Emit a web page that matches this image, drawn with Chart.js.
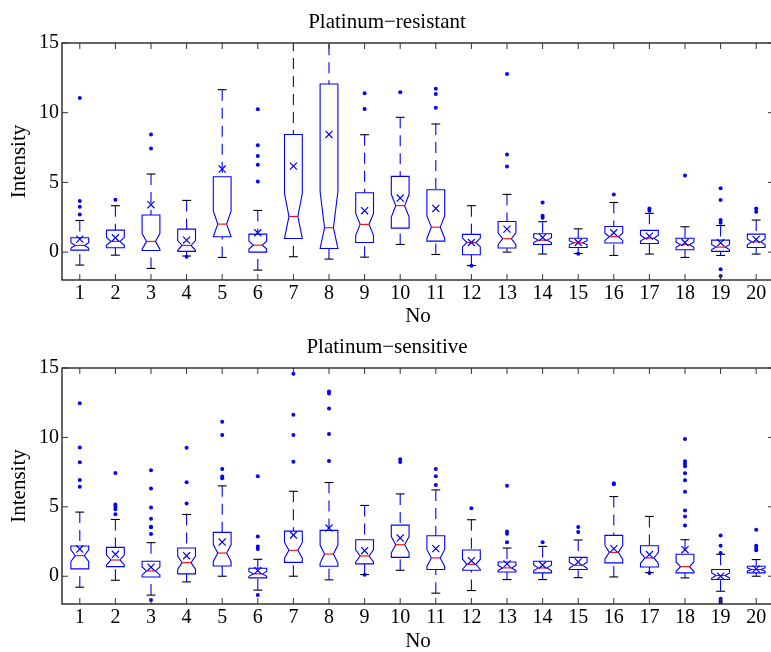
<!DOCTYPE html>
<html>
<head>
<meta charset="utf-8">
<script src="https://cdn.jsdelivr.net/npm/chart.js@4"></script>
<style>
html, body { margin: 0; padding: 0; background: #fff; overflow: hidden; }
.panel { position: absolute; left: 0; width: 775px; height: 330px; }
#p1 { top: 0; }
#p2 { top: 325px; }
</style>
</head>
<body>
<div class="panel" id="p1"><canvas id="chartRes" width="775" height="330"></canvas></div>
<div class="panel" id="p2"><canvas id="chartSens" width="775" height="330"></canvas></div>
<script>
const categories = [1, 2, 3, 4, 5, 6, 7, 8, 9, 10, 11, 12, 13, 14, 15, 16, 17, 18, 19, 20];
const yTicks = [0, 5, 10, 15];

// Platinum-resistant
const resQ1   = [0.14, 0.31, 0.12, 0.05, 1.10, 0.00, 0.98, 0.26, 0.69, 1.72, 0.79, -0.19, 0.29, 0.55, 0.33, 0.65, 0.62, 0.17, 0.05, 0.33];
const resMed  = [0.48, 0.77, 0.77, 0.48, 2.01, 0.50, 2.56, 1.75, 1.99, 3.33, 1.79, 0.69, 0.96, 0.86, 0.67, 1.10, 1.00, 0.53, 0.36, 0.74];
const resQ3   = [1.03, 1.58, 2.66, 1.65, 5.41, 1.29, 8.44, 12.06, 4.26, 5.43, 4.47, 1.27, 2.20, 1.32, 1.00, 1.84, 1.56, 1.00, 0.86, 1.29];
const resLo   = [-0.93, -0.22, -1.17, -0.28, -0.38, -1.29, -0.33, -0.50, -0.36, 0.55, -0.17, -0.96, 0.00, -0.14, -0.10, -0.24, -0.14, -0.38, -0.24, -0.14];
const resHi   = [2.27, 3.33, 5.60, 3.71, 11.65, 2.99, 16.5, 17.5, 8.42, 9.67, 9.19, 3.33, 4.14, 2.18, 1.67, 3.56, 2.78, 1.82, 1.91, 2.30];
const resMean = [0.93, 1.03, 3.40, 0.86, 5.96, 1.39, 6.17, 8.44, 2.97, 3.88, 3.13, 0.69, 1.65, 1.05, 0.69, 1.39, 1.15, 0.69, 0.67, 0.91];
const resOut  = [
  [11.05, 3.66, 3.25, 2.70], [3.76], [8.44, 7.44], [-0.33], [],
  [10.24, 7.66, 6.89, 6.27, 5.07], [], [], [11.39, 10.26], [11.46],
  [11.72, 11.34, 10.36], [-0.98], [12.78, 7.01, 6.15], [3.56, 2.61, 2.46], [-0.12],
  [4.14], [3.13, 2.97], [5.50], [4.59, 3.73, 2.30, 2.11, -1.22, -1.72], [3.13, 2.89]
];
const resN = 51;

// Platinum-sensitive
const sensQ1   = [0.53, 0.69, -0.05, 0.17, 0.74, -0.12, 1.00, 0.72, 0.89, 1.36, 0.48, 0.43, 0.31, 0.24, 0.48, 0.96, 0.67, 0.24, -0.24, 0.24];
const sensMed  = [1.48, 1.17, 0.38, 0.98, 1.67, 0.17, 1.87, 1.60, 1.46, 2.27, 1.32, 0.86, 0.60, 0.60, 0.79, 1.72, 1.32, 0.69, 0.05, 0.48];
const sensQ3   = [2.18, 2.08, 1.08, 2.03, 3.16, 0.57, 3.25, 3.30, 2.63, 3.68, 2.92, 1.89, 1.03, 1.08, 1.36, 2.94, 2.20, 1.58, 0.48, 0.72];
const sensLo   = [-0.79, -0.29, -1.36, -0.41, 0.00, -1.00, 0.00, -0.26, 0.12, 0.43, -1.22, -1.03, -0.24, -0.24, -0.10, -0.05, 0.26, -0.12, -1.08, 0.00];
const sensHi   = [4.62, 4.09, 2.42, 4.45, 6.51, 1.22, 6.12, 6.75, 5.10, 5.93, 6.22, 4.07, 2.03, 2.15, 2.61, 5.74, 4.31, 2.63, 1.58, 1.20];
const sensMean = [1.96, 1.58, 0.65, 1.48, 2.46, 0.41, 2.97, 3.47, 1.84, 2.75, 1.99, 1.12, 0.89, 0.81, 1.03, 1.99, 1.56, 1.91, 0.00, 0.53];
const sensOut  = [
  [12.46, 9.28, 8.21, 6.94, 6.44], [7.44, 5.17, 5.00, 4.83, 4.47], [7.63, 6.32, 4.95, 4.14, 3.56, 3.52, 3.04, -1.72], [9.26, 6.77, 5.24], [11.12, 10.17, 7.73, 7.18, 7.06],
  [7.20, 2.87, 2.15, 1.96, -1.36], [14.59, 11.63, 10.17, 8.25], [13.30, 13.16, 12.08, 10.24, 8.30], [0.10], [8.42, 8.23],
  [7.73, 7.20, 6.58], [4.90], [6.51, 3.23, 3.06, 2.44], [2.44], [3.54, 3.18],
  [6.70, 6.63], [0.24], [9.88, 8.28, 8.11, 7.92, 7.42, 6.91, 6.08, 4.74, 4.31, 3.66], [2.94, 2.20, 1.67, -1.63, -1.77, -1.91], [3.35, 2.20, 2.03, 1.87]
];
const sensN = 39;

const serif = 'Liberation Serif';

// notched boxes, whiskers and the axes frame, drawn with the chart's scales
function boxLayer(st) {
  return {
    id: 'boxLayer',
    beforeDatasetsDraw(chart) {
      const { ctx, chartArea: a, scales: { x, y } } = chart;
      const Y = v => y.getPixelForValue(v);
      const line = (x1, y1, x2, y2) => { ctx.beginPath(); ctx.moveTo(x1, y1); ctx.lineTo(x2, y2); ctx.stroke(); };
      ctx.save();
      ctx.beginPath();
      ctx.rect(a.left, a.top, a.right - a.left, a.bottom - a.top);
      ctx.clip();
      ctx.lineWidth = 1.1;
      categories.forEach((c, i) => {
        const q1 = st.q1[i], md = st.med[i], q3 = st.q3[i];
        const half = 1.57 * (q3 - q1) / Math.sqrt(st.n);
        const nLo = Math.max(q1, md - half), nHi = Math.min(q3, md + half);
        const xc = x.getPixelForValue(c);
        const xl = x.getPixelForValue(c - 0.25), xr = x.getPixelForValue(c + 0.25);
        const il = x.getPixelForValue(c - 0.125), ir = x.getPixelForValue(c + 0.125);

        ctx.strokeStyle = '#0000ff';
        ctx.setLineDash([11, 7]);
        line(xc, Y(st.hi[i]), xc, Y(q3));
        line(xc, Y(st.lo[i]), xc, Y(q1));
        ctx.setLineDash([]);

        ctx.strokeStyle = '#000';
        line(il, Y(st.hi[i]), ir, Y(st.hi[i]));
        line(il, Y(st.lo[i]), ir, Y(st.lo[i]));

        ctx.strokeStyle = '#0000ff';
        ctx.beginPath();
        ctx.moveTo(xl, Y(q1));
        ctx.lineTo(xl, Y(nLo));
        ctx.lineTo(il, Y(md));
        ctx.lineTo(xl, Y(nHi));
        ctx.lineTo(xl, Y(q3));
        ctx.lineTo(xr, Y(q3));
        ctx.lineTo(xr, Y(nHi));
        ctx.lineTo(ir, Y(md));
        ctx.lineTo(xr, Y(nLo));
        ctx.lineTo(xr, Y(q1));
        ctx.closePath();
        ctx.stroke();

        ctx.strokeStyle = '#ff0000';
        line(il, Y(md), ir, Y(md));
      });
      ctx.restore();
    },
    afterDraw(chart) {
      const { ctx, chartArea: a, scales: { x, y } } = chart;
      ctx.save();
      ctx.strokeStyle = '#000';
      ctx.lineWidth = 1.2;
      ctx.strokeRect(a.left, a.top, a.right - a.left, a.bottom - a.top);
      ctx.strokeStyle = '#333';
      ctx.lineWidth = 1;
      ctx.beginPath();
      x.ticks.forEach(t => {
        const px = x.getPixelForValue(t.value);
        ctx.moveTo(px, a.bottom); ctx.lineTo(px, a.bottom - 6);
        ctx.moveTo(px, a.top); ctx.lineTo(px, a.top + 6);
      });
      y.ticks.forEach(t => {
        const py = y.getPixelForValue(t.value);
        ctx.moveTo(a.left, py); ctx.lineTo(a.left + 6, py);
        ctx.moveTo(a.right, py); ctx.lineTo(a.right - 6, py);
      });
      ctx.stroke();
      ctx.restore();
    }
  };
}

function makeChart(el, title, st, axisHeight) {
  const outPts = [];
  st.out.forEach((vals, i) => vals.forEach(v => outPts.push({ x: categories[i], y: v })));
  const meanPts = st.mean.map((v, i) => ({ x: categories[i], y: v }));

  return new Chart(document.getElementById(el), {
    type: 'scatter',
    data: {
      datasets: [{
        label: 'Outliers',
        data: outPts,
        pointStyle: 'circle',
        pointRadius: 2,
        backgroundColor: '#0000ff',
        borderWidth: 0
      }, {
        label: 'Mean',
        data: meanPts,
        pointStyle: 'crossRot',
        pointRadius: 5,
        borderColor: '#0000ff',
        backgroundColor: '#0000ff',
        borderWidth: 1.2
      }]
    },
    options: {
      animation: false,
      responsive: false,
      layout: { autoPadding: false, padding: { left: 0, right: 1, top: 0, bottom: 0 } },
      plugins: {
        legend: { display: false },
        tooltip: { enabled: false },
        title: {
          display: true,
          text: title,
          color: '#000',
          font: { family: serif, size: 21, weight: 'normal' },
          padding: { top: 10, bottom: 7.8 }
        }
      },
      scales: {
        x: {
          type: 'linear',
          min: 0.5,
          max: 20.5,
          grid: { display: false, drawTicks: false },
          border: { display: false },
          afterBuildTicks: s => { s.ticks = categories.map(v => ({ value: v })); },
          afterFit: s => { s.height = axisHeight; s.paddingLeft = 0; s.paddingRight = 0; },
          ticks: {
            color: '#000',
            padding: 2,
            maxRotation: 0,
            autoSkip: false,
            font: { family: serif, size: 20 },
            callback: v => String(v)
          },
          title: {
            display: true,
            text: 'No',
            color: '#000',
            font: { family: serif, size: 21 },
            padding: { top: 0, bottom: 1 }
          }
        },
        y: {
          min: -2,
          max: 15,
          grid: { display: false, drawTicks: false },
          border: { display: false },
          afterBuildTicks: s => { s.ticks = yTicks.map(v => ({ value: v })); },
          afterFit: s => { s.width = 62; },
          ticks: {
            color: '#000',
            padding: 3,
            font: { family: serif, size: 20 }
          },
          title: {
            display: true,
            text: 'Intensity',
            color: '#000',
            font: { family: serif, size: 21 },
            padding: { top: 7, bottom: 0 }
          }
        }
      }
    },
    plugins: [boxLayer(st)]
  });
}

makeChart('chartRes', 'Platinum\u2212resistant', {
  q1: resQ1, med: resMed, q3: resQ3, lo: resLo, hi: resHi, mean: resMean, out: resOut, n: resN
}, 50);

makeChart('chartSens', 'Platinum\u2212sensitive', {
  q1: sensQ1, med: sensMed, q3: sensQ3, lo: sensLo, hi: sensHi, mean: sensMean, out: sensOut, n: sensN
}, 51);
</script>
</body>
</html>
